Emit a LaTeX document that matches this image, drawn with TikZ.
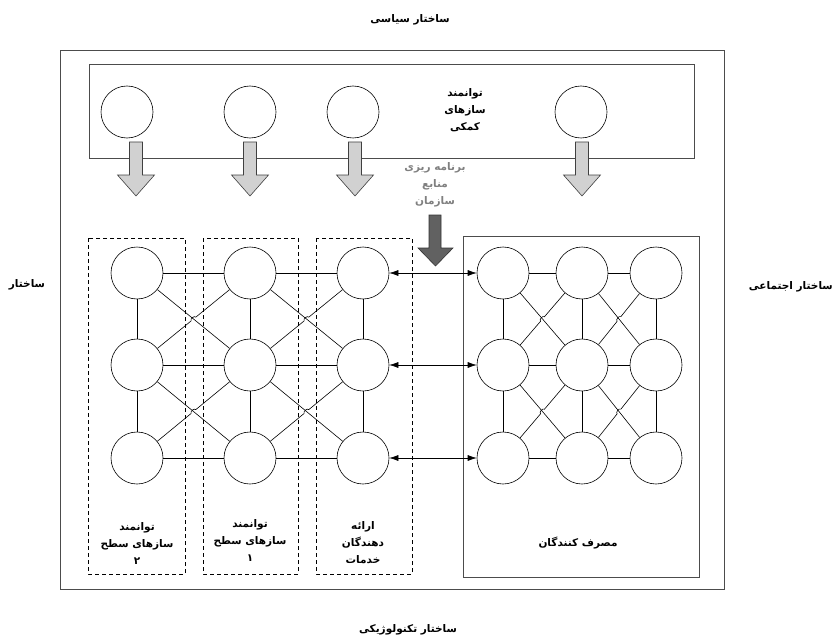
\documentclass[tikz,border=0pt]{standalone}
\usepackage{fontspec}
\usetikzlibrary{arrows.meta,calc}
\newfontfamily\fafont[Script=Arabic]{DejaVu Sans}
\TeXXeTstate=1
\newcommand{\R}[1]{\beginR #1\endR}
\newcommand{\barrow}[3]{\draw[fill=#3,draw=black!75,line width=0.6pt] (#1-6.5,#2) -- ++(13,0) -- ++(0,33) -- ++(12,0) -- ++(-18.5,21) -- ++(-18.5,-21) -- ++(12,0) -- cycle;}
\newcommand{\crossx}[4]{%
  \coordinate (X) at ($(#1)!0.5!(#4)$);
  \draw[link] (#1) -- (#4);
  \draw[link] (#3) -- ($(X)!3pt!(#3)$) to[bend left=90] ($(X)!3pt!(#2)$) -- (#2);}
\begin{document}
\begin{tikzpicture}[x=1pt,y=-1pt,
  nd/.style={circle,draw,minimum size=52pt,inner sep=0pt,line width=0.6pt},
  link/.style={line width=0.6pt},
  lbl/.style={font=\fafont\bfseries\fontsize{10.5}{17}\selectfont,align=center,inner sep=0pt},
  glbl/.style={lbl,text=black!50},
  dbox/.style={draw,dashed,dash pattern=on 4pt off 3pt,line width=0.6pt},
  dar/.style={{Latex[length=9pt,width=6pt]}-{Latex[length=9pt,width=6pt]},line width=0.6pt}]
\useasboundingbox (0,0) rectangle (834,639);
% outer and top boxes
\draw[draw=black!70,line width=0.8pt] (60,50) rectangle (724,589);
\draw[draw=black!70,line width=0.8pt] (89,64) rectangle (694,158);
% top circles
\node[nd] (t1) at (127,112) {};
\node[nd] (t2) at (250,112) {};
\node[nd] (t3) at (353,112) {};
\node[nd] (t4) at (581,112) {};
\node[lbl] (tt) at (465,110) {\R{توانمند}\\\R{سازهای}\\\R{کمکی}};
% light arrows
\barrow{136}{142}{black!18}
\barrow{250}{142}{black!18}
\barrow{355}{142}{black!18}
\barrow{582}{142}{black!18}
% planning text and dark arrow
\node[glbl] (pl) at (435,185) {\R{برنامه ریزی}\\\R{منابع}\\\R{سازمان}};
\draw[fill=black!62,draw=black!80,line width=0.6pt] (429,215) -- (441,215) -- (441,248) -- (453,248) -- (435.5,266) -- (418,248) -- (429,248) -- cycle;
% dashed boxes
\draw[dbox] (88,238) rectangle (185,574);
\draw[dbox] (203,238) rectangle (298,574);
\draw[dbox] (316,238) rectangle (412,574);
% consumer box
\draw[draw=black!70,line width=0.8pt] (463,236) rectangle (699,577);
% left network
\foreach \c/\x in {1/137,2/250,3/363}{
  \foreach \r/\y in {1/273,2/365,3/458}{
    \node[nd] (L\c\r) at (\x,\y) {};
  }}
% right network
\foreach \c/\x in {1/503,2/582,3/656}{
  \foreach \r/\y in {1/273,2/365,3/458}{
    \node[nd] (R\c\r) at (\x,\y) {};
  }}
% grid links
\foreach \N in {L,R}{
  \foreach \r in {1,2,3}{
    \draw[link] (\N1\r) -- (\N2\r);
    \draw[link] (\N2\r) -- (\N3\r);
  }
  \foreach \c in {1,2,3}{
    \draw[link] (\N\c1) -- (\N\c2);
    \draw[link] (\N\c2) -- (\N\c3);
  }
}
\crossx{L11}{L21}{L12}{L22}
\crossx{L21}{L31}{L22}{L32}
\crossx{L12}{L22}{L13}{L23}
\crossx{L22}{L32}{L23}{L33}
\crossx{R11}{R21}{R12}{R22}
\crossx{R21}{R31}{R22}{R32}
\crossx{R12}{R22}{R13}{R23}
\crossx{R22}{R32}{R23}{R33}
% double arrows
\draw[dar] (L31) -- (R11);
\draw[dar] (L32) -- (R12);
\draw[dar] (L33) -- (R13);
% box labels
\node[lbl] (b1) at (137,544) {\R{توانمند}\\\R{سازهای سطح}\\\R{۲}};
\node[lbl] (b2) at (250,541) {\R{توانمند}\\\R{سازهای سطح}\\\R{۱}};
\node[lbl] (b3) at (363,543) {\R{ارائه}\\\R{دهندگان}\\\R{خدمات}};
\node[lbl] (b4) at (578,543) {\R{مصرف کنندگان}};
% outer labels
\node[lbl] (st) at (410,20) {\R{ساختار سیاسی}};
\node[lbl] (sl) at (27,285) {\R{ساختار}};
\node[lbl,anchor=east] (sr) at (833,287) {\R{ساختار اجتماعی}};
\node[lbl] (sb) at (408,630) {\R{ساختار تکنولوژیکی}};
\end{tikzpicture}
\end{document}
